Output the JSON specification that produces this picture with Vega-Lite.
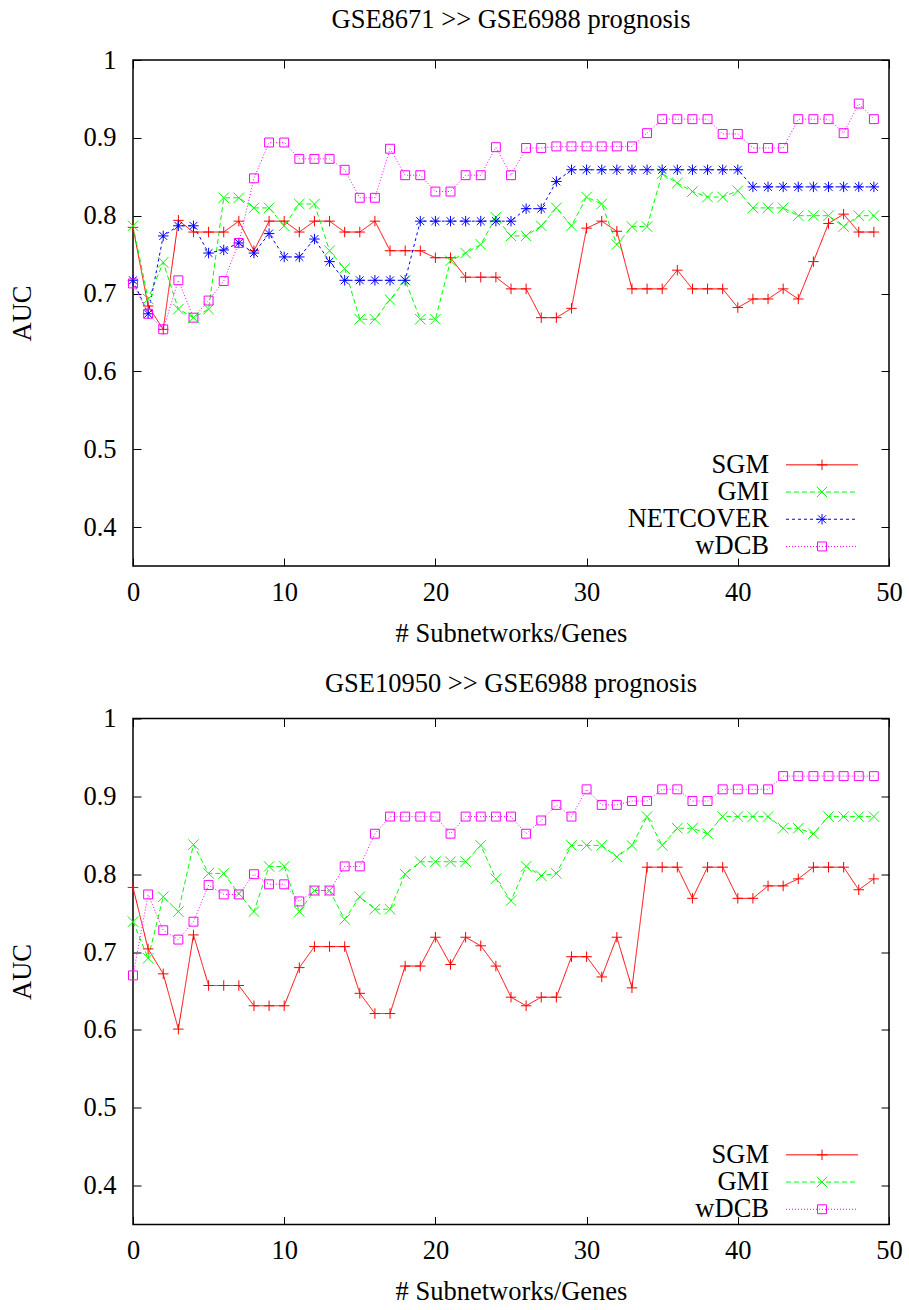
{
  "$schema": "https://vega.github.io/schema/vega-lite/v6.json",
  "padding": {"left": 9, "top": 5, "right": 5, "bottom": 2},
  "spacing": 21.5,
  "config": {
    "font": "Liberation Serif",
    "view": {"stroke": "black", "strokeWidth": 1.5},
    "axis": {"domain": false, "grid": false, "labelFlush": false, "labelOverlap": false, "tickColor": "black", "tickSize": -8, "tickWidth": 1, "labelFontSize": 26.5, "labelColor": "black", "titleFontSize": 26.5, "titleFontWeight": "normal", "titleColor": "black", "labelFont": "Liberation Serif", "titleFont": "Liberation Serif"},
    "axisX": {"labelPadding": 21, "titlePadding": 14.5},
    "axisY": {"labelPadding": 25, "titlePadding": 46},
    "title": {"fontSize": 26.5, "fontWeight": "normal", "font": "Liberation Serif", "color": "black", "baseline": "alphabetic"},
    "legend": {"labelFont": "Liberation Serif", "labelFontSize": 26.5, "labelColor": "black", "padding": 0, "rowPadding": 0.2, "title": null}
  },
  "resolve": {"scale": {"color": "independent", "shape": "independent", "strokeDash": "independent"}, "legend": {"color": "independent", "shape": "independent", "strokeDash": "independent"}},
  "datasets": {
    "top": [
      {"method": "SGM", "genes": 0, "auc": 0.785}, {"method": "SGM", "genes": 1, "auc": 0.684}, {"method": "SGM", "genes": 2, "auc": 0.654}, {"method": "SGM", "genes": 3, "auc": 0.794}, {"method": "SGM", "genes": 4, "auc": 0.779}, {"method": "SGM", "genes": 5, "auc": 0.779}, {"method": "SGM", "genes": 6, "auc": 0.779}, {"method": "SGM", "genes": 7, "auc": 0.793}, {"method": "SGM", "genes": 8, "auc": 0.755}, {"method": "SGM", "genes": 9, "auc": 0.793},
      {"method": "SGM", "genes": 10, "auc": 0.793}, {"method": "SGM", "genes": 11, "auc": 0.779}, {"method": "SGM", "genes": 12, "auc": 0.793}, {"method": "SGM", "genes": 13, "auc": 0.793}, {"method": "SGM", "genes": 14, "auc": 0.779}, {"method": "SGM", "genes": 15, "auc": 0.779}, {"method": "SGM", "genes": 16, "auc": 0.793}, {"method": "SGM", "genes": 17, "auc": 0.755}, {"method": "SGM", "genes": 18, "auc": 0.755}, {"method": "SGM", "genes": 19, "auc": 0.755},
      {"method": "SGM", "genes": 20, "auc": 0.746}, {"method": "SGM", "genes": 21, "auc": 0.746}, {"method": "SGM", "genes": 22, "auc": 0.721}, {"method": "SGM", "genes": 23, "auc": 0.721}, {"method": "SGM", "genes": 24, "auc": 0.721}, {"method": "SGM", "genes": 25, "auc": 0.706}, {"method": "SGM", "genes": 26, "auc": 0.706}, {"method": "SGM", "genes": 27, "auc": 0.669}, {"method": "SGM", "genes": 28, "auc": 0.669}, {"method": "SGM", "genes": 29, "auc": 0.681},
      {"method": "SGM", "genes": 30, "auc": 0.784}, {"method": "SGM", "genes": 31, "auc": 0.793}, {"method": "SGM", "genes": 32, "auc": 0.78}, {"method": "SGM", "genes": 33, "auc": 0.706}, {"method": "SGM", "genes": 34, "auc": 0.706}, {"method": "SGM", "genes": 35, "auc": 0.706}, {"method": "SGM", "genes": 36, "auc": 0.73}, {"method": "SGM", "genes": 37, "auc": 0.706}, {"method": "SGM", "genes": 38, "auc": 0.706}, {"method": "SGM", "genes": 39, "auc": 0.706},
      {"method": "SGM", "genes": 40, "auc": 0.682}, {"method": "SGM", "genes": 41, "auc": 0.693}, {"method": "SGM", "genes": 42, "auc": 0.693}, {"method": "SGM", "genes": 43, "auc": 0.706}, {"method": "SGM", "genes": 44, "auc": 0.693}, {"method": "SGM", "genes": 45, "auc": 0.741}, {"method": "SGM", "genes": 46, "auc": 0.79}, {"method": "SGM", "genes": 47, "auc": 0.802}, {"method": "SGM", "genes": 48, "auc": 0.779}, {"method": "SGM", "genes": 49, "auc": 0.779},
      {"method": "GMI", "genes": 0, "auc": 0.787}, {"method": "GMI", "genes": 1, "auc": 0.693}, {"method": "GMI", "genes": 2, "auc": 0.74}, {"method": "GMI", "genes": 3, "auc": 0.68}, {"method": "GMI", "genes": 4, "auc": 0.669}, {"method": "GMI", "genes": 5, "auc": 0.68}, {"method": "GMI", "genes": 6, "auc": 0.823}, {"method": "GMI", "genes": 7, "auc": 0.823}, {"method": "GMI", "genes": 8, "auc": 0.81}, {"method": "GMI", "genes": 9, "auc": 0.81},
      {"method": "GMI", "genes": 10, "auc": 0.787}, {"method": "GMI", "genes": 11, "auc": 0.815}, {"method": "GMI", "genes": 12, "auc": 0.815}, {"method": "GMI", "genes": 13, "auc": 0.755}, {"method": "GMI", "genes": 14, "auc": 0.732}, {"method": "GMI", "genes": 15, "auc": 0.667}, {"method": "GMI", "genes": 16, "auc": 0.667}, {"method": "GMI", "genes": 17, "auc": 0.692}, {"method": "GMI", "genes": 18, "auc": 0.717}, {"method": "GMI", "genes": 19, "auc": 0.667},
      {"method": "GMI", "genes": 20, "auc": 0.667}, {"method": "GMI", "genes": 21, "auc": 0.742}, {"method": "GMI", "genes": 22, "auc": 0.752}, {"method": "GMI", "genes": 23, "auc": 0.763}, {"method": "GMI", "genes": 24, "auc": 0.798}, {"method": "GMI", "genes": 25, "auc": 0.774}, {"method": "GMI", "genes": 26, "auc": 0.774}, {"method": "GMI", "genes": 27, "auc": 0.787}, {"method": "GMI", "genes": 28, "auc": 0.81}, {"method": "GMI", "genes": 29, "auc": 0.787},
      {"method": "GMI", "genes": 30, "auc": 0.824}, {"method": "GMI", "genes": 31, "auc": 0.815}, {"method": "GMI", "genes": 32, "auc": 0.763}, {"method": "GMI", "genes": 33, "auc": 0.786}, {"method": "GMI", "genes": 34, "auc": 0.786}, {"method": "GMI", "genes": 35, "auc": 0.854}, {"method": "GMI", "genes": 36, "auc": 0.842}, {"method": "GMI", "genes": 37, "auc": 0.831}, {"method": "GMI", "genes": 38, "auc": 0.824}, {"method": "GMI", "genes": 39, "auc": 0.824},
      {"method": "GMI", "genes": 40, "auc": 0.832}, {"method": "GMI", "genes": 41, "auc": 0.81}, {"method": "GMI", "genes": 42, "auc": 0.81}, {"method": "GMI", "genes": 43, "auc": 0.81}, {"method": "GMI", "genes": 44, "auc": 0.8}, {"method": "GMI", "genes": 45, "auc": 0.8}, {"method": "GMI", "genes": 46, "auc": 0.8}, {"method": "GMI", "genes": 47, "auc": 0.786}, {"method": "GMI", "genes": 48, "auc": 0.8}, {"method": "GMI", "genes": 49, "auc": 0.8},
      {"method": "NETCOVER", "genes": 0, "auc": 0.717}, {"method": "NETCOVER", "genes": 1, "auc": 0.674}, {"method": "NETCOVER", "genes": 2, "auc": 0.774}, {"method": "NETCOVER", "genes": 3, "auc": 0.787}, {"method": "NETCOVER", "genes": 4, "auc": 0.787}, {"method": "NETCOVER", "genes": 5, "auc": 0.752}, {"method": "NETCOVER", "genes": 6, "auc": 0.756}, {"method": "NETCOVER", "genes": 7, "auc": 0.765}, {"method": "NETCOVER", "genes": 8, "auc": 0.752}, {"method": "NETCOVER", "genes": 9, "auc": 0.777},
      {"method": "NETCOVER", "genes": 10, "auc": 0.747}, {"method": "NETCOVER", "genes": 11, "auc": 0.747}, {"method": "NETCOVER", "genes": 12, "auc": 0.77}, {"method": "NETCOVER", "genes": 13, "auc": 0.741}, {"method": "NETCOVER", "genes": 14, "auc": 0.717}, {"method": "NETCOVER", "genes": 15, "auc": 0.717}, {"method": "NETCOVER", "genes": 16, "auc": 0.717}, {"method": "NETCOVER", "genes": 17, "auc": 0.717}, {"method": "NETCOVER", "genes": 18, "auc": 0.717}, {"method": "NETCOVER", "genes": 19, "auc": 0.793},
      {"method": "NETCOVER", "genes": 20, "auc": 0.793}, {"method": "NETCOVER", "genes": 21, "auc": 0.793}, {"method": "NETCOVER", "genes": 22, "auc": 0.793}, {"method": "NETCOVER", "genes": 23, "auc": 0.793}, {"method": "NETCOVER", "genes": 24, "auc": 0.793}, {"method": "NETCOVER", "genes": 25, "auc": 0.793}, {"method": "NETCOVER", "genes": 26, "auc": 0.809}, {"method": "NETCOVER", "genes": 27, "auc": 0.809}, {"method": "NETCOVER", "genes": 28, "auc": 0.844}, {"method": "NETCOVER", "genes": 29, "auc": 0.859},
      {"method": "NETCOVER", "genes": 30, "auc": 0.859}, {"method": "NETCOVER", "genes": 31, "auc": 0.859}, {"method": "NETCOVER", "genes": 32, "auc": 0.859}, {"method": "NETCOVER", "genes": 33, "auc": 0.859}, {"method": "NETCOVER", "genes": 34, "auc": 0.859}, {"method": "NETCOVER", "genes": 35, "auc": 0.859}, {"method": "NETCOVER", "genes": 36, "auc": 0.859}, {"method": "NETCOVER", "genes": 37, "auc": 0.859}, {"method": "NETCOVER", "genes": 38, "auc": 0.859}, {"method": "NETCOVER", "genes": 39, "auc": 0.859},
      {"method": "NETCOVER", "genes": 40, "auc": 0.859}, {"method": "NETCOVER", "genes": 41, "auc": 0.837}, {"method": "NETCOVER", "genes": 42, "auc": 0.837}, {"method": "NETCOVER", "genes": 43, "auc": 0.837}, {"method": "NETCOVER", "genes": 44, "auc": 0.837}, {"method": "NETCOVER", "genes": 45, "auc": 0.837}, {"method": "NETCOVER", "genes": 46, "auc": 0.837}, {"method": "NETCOVER", "genes": 47, "auc": 0.837}, {"method": "NETCOVER", "genes": 48, "auc": 0.837}, {"method": "NETCOVER", "genes": 49, "auc": 0.837},
      {"method": "wDCB", "genes": 0, "auc": 0.713}, {"method": "wDCB", "genes": 1, "auc": 0.674}, {"method": "wDCB", "genes": 2, "auc": 0.654}, {"method": "wDCB", "genes": 3, "auc": 0.717}, {"method": "wDCB", "genes": 4, "auc": 0.669}, {"method": "wDCB", "genes": 5, "auc": 0.691}, {"method": "wDCB", "genes": 6, "auc": 0.716}, {"method": "wDCB", "genes": 7, "auc": 0.765}, {"method": "wDCB", "genes": 8, "auc": 0.848}, {"method": "wDCB", "genes": 9, "auc": 0.894},
      {"method": "wDCB", "genes": 10, "auc": 0.894}, {"method": "wDCB", "genes": 11, "auc": 0.873}, {"method": "wDCB", "genes": 12, "auc": 0.873}, {"method": "wDCB", "genes": 13, "auc": 0.873}, {"method": "wDCB", "genes": 14, "auc": 0.859}, {"method": "wDCB", "genes": 15, "auc": 0.823}, {"method": "wDCB", "genes": 16, "auc": 0.823}, {"method": "wDCB", "genes": 17, "auc": 0.886}, {"method": "wDCB", "genes": 18, "auc": 0.852}, {"method": "wDCB", "genes": 19, "auc": 0.852},
      {"method": "wDCB", "genes": 20, "auc": 0.831}, {"method": "wDCB", "genes": 21, "auc": 0.831}, {"method": "wDCB", "genes": 22, "auc": 0.852}, {"method": "wDCB", "genes": 23, "auc": 0.852}, {"method": "wDCB", "genes": 24, "auc": 0.888}, {"method": "wDCB", "genes": 25, "auc": 0.852}, {"method": "wDCB", "genes": 26, "auc": 0.887}, {"method": "wDCB", "genes": 27, "auc": 0.887}, {"method": "wDCB", "genes": 28, "auc": 0.889}, {"method": "wDCB", "genes": 29, "auc": 0.889},
      {"method": "wDCB", "genes": 30, "auc": 0.889}, {"method": "wDCB", "genes": 31, "auc": 0.889}, {"method": "wDCB", "genes": 32, "auc": 0.889}, {"method": "wDCB", "genes": 33, "auc": 0.889}, {"method": "wDCB", "genes": 34, "auc": 0.906}, {"method": "wDCB", "genes": 35, "auc": 0.924}, {"method": "wDCB", "genes": 36, "auc": 0.924}, {"method": "wDCB", "genes": 37, "auc": 0.924}, {"method": "wDCB", "genes": 38, "auc": 0.924}, {"method": "wDCB", "genes": 39, "auc": 0.905},
      {"method": "wDCB", "genes": 40, "auc": 0.905}, {"method": "wDCB", "genes": 41, "auc": 0.887}, {"method": "wDCB", "genes": 42, "auc": 0.887}, {"method": "wDCB", "genes": 43, "auc": 0.887}, {"method": "wDCB", "genes": 44, "auc": 0.924}, {"method": "wDCB", "genes": 45, "auc": 0.924}, {"method": "wDCB", "genes": 46, "auc": 0.924}, {"method": "wDCB", "genes": 47, "auc": 0.906}, {"method": "wDCB", "genes": 48, "auc": 0.944}, {"method": "wDCB", "genes": 49, "auc": 0.924}
    ],
    "bottom": [
      {"method": "SGM", "genes": 0, "auc": 0.783}, {"method": "SGM", "genes": 1, "auc": 0.704}, {"method": "SGM", "genes": 2, "auc": 0.672}, {"method": "SGM", "genes": 3, "auc": 0.601}, {"method": "SGM", "genes": 4, "auc": 0.722}, {"method": "SGM", "genes": 5, "auc": 0.657}, {"method": "SGM", "genes": 6, "auc": 0.657}, {"method": "SGM", "genes": 7, "auc": 0.657}, {"method": "SGM", "genes": 8, "auc": 0.631}, {"method": "SGM", "genes": 9, "auc": 0.631},
      {"method": "SGM", "genes": 10, "auc": 0.631}, {"method": "SGM", "genes": 11, "auc": 0.68}, {"method": "SGM", "genes": 12, "auc": 0.707}, {"method": "SGM", "genes": 13, "auc": 0.707}, {"method": "SGM", "genes": 14, "auc": 0.707}, {"method": "SGM", "genes": 15, "auc": 0.647}, {"method": "SGM", "genes": 16, "auc": 0.621}, {"method": "SGM", "genes": 17, "auc": 0.621}, {"method": "SGM", "genes": 18, "auc": 0.682}, {"method": "SGM", "genes": 19, "auc": 0.682},
      {"method": "SGM", "genes": 20, "auc": 0.719}, {"method": "SGM", "genes": 21, "auc": 0.684}, {"method": "SGM", "genes": 22, "auc": 0.719}, {"method": "SGM", "genes": 23, "auc": 0.708}, {"method": "SGM", "genes": 24, "auc": 0.682}, {"method": "SGM", "genes": 25, "auc": 0.642}, {"method": "SGM", "genes": 26, "auc": 0.631}, {"method": "SGM", "genes": 27, "auc": 0.642}, {"method": "SGM", "genes": 28, "auc": 0.642}, {"method": "SGM", "genes": 29, "auc": 0.694},
      {"method": "SGM", "genes": 30, "auc": 0.694}, {"method": "SGM", "genes": 31, "auc": 0.668}, {"method": "SGM", "genes": 32, "auc": 0.719}, {"method": "SGM", "genes": 33, "auc": 0.654}, {"method": "SGM", "genes": 34, "auc": 0.809}, {"method": "SGM", "genes": 35, "auc": 0.809}, {"method": "SGM", "genes": 36, "auc": 0.809}, {"method": "SGM", "genes": 37, "auc": 0.769}, {"method": "SGM", "genes": 38, "auc": 0.809}, {"method": "SGM", "genes": 39, "auc": 0.809},
      {"method": "SGM", "genes": 40, "auc": 0.769}, {"method": "SGM", "genes": 41, "auc": 0.769}, {"method": "SGM", "genes": 42, "auc": 0.785}, {"method": "SGM", "genes": 43, "auc": 0.785}, {"method": "SGM", "genes": 44, "auc": 0.794}, {"method": "SGM", "genes": 45, "auc": 0.809}, {"method": "SGM", "genes": 46, "auc": 0.809}, {"method": "SGM", "genes": 47, "auc": 0.809}, {"method": "SGM", "genes": 48, "auc": 0.78}, {"method": "SGM", "genes": 49, "auc": 0.794},
      {"method": "GMI", "genes": 0, "auc": 0.739}, {"method": "GMI", "genes": 1, "auc": 0.692}, {"method": "GMI", "genes": 2, "auc": 0.771}, {"method": "GMI", "genes": 3, "auc": 0.752}, {"method": "GMI", "genes": 4, "auc": 0.838}, {"method": "GMI", "genes": 5, "auc": 0.801}, {"method": "GMI", "genes": 6, "auc": 0.801}, {"method": "GMI", "genes": 7, "auc": 0.775}, {"method": "GMI", "genes": 8, "auc": 0.752}, {"method": "GMI", "genes": 9, "auc": 0.81},
      {"method": "GMI", "genes": 10, "auc": 0.81}, {"method": "GMI", "genes": 11, "auc": 0.752}, {"method": "GMI", "genes": 12, "auc": 0.779}, {"method": "GMI", "genes": 13, "auc": 0.779}, {"method": "GMI", "genes": 14, "auc": 0.742}, {"method": "GMI", "genes": 15, "auc": 0.771}, {"method": "GMI", "genes": 16, "auc": 0.755}, {"method": "GMI", "genes": 17, "auc": 0.755}, {"method": "GMI", "genes": 18, "auc": 0.8}, {"method": "GMI", "genes": 19, "auc": 0.816},
      {"method": "GMI", "genes": 20, "auc": 0.816}, {"method": "GMI", "genes": 21, "auc": 0.816}, {"method": "GMI", "genes": 22, "auc": 0.816}, {"method": "GMI", "genes": 23, "auc": 0.837}, {"method": "GMI", "genes": 24, "auc": 0.794}, {"method": "GMI", "genes": 25, "auc": 0.766}, {"method": "GMI", "genes": 26, "auc": 0.81}, {"method": "GMI", "genes": 27, "auc": 0.798}, {"method": "GMI", "genes": 28, "auc": 0.801}, {"method": "GMI", "genes": 29, "auc": 0.837},
      {"method": "GMI", "genes": 30, "auc": 0.837}, {"method": "GMI", "genes": 31, "auc": 0.837}, {"method": "GMI", "genes": 32, "auc": 0.822}, {"method": "GMI", "genes": 33, "auc": 0.837}, {"method": "GMI", "genes": 34, "auc": 0.874}, {"method": "GMI", "genes": 35, "auc": 0.837}, {"method": "GMI", "genes": 36, "auc": 0.859}, {"method": "GMI", "genes": 37, "auc": 0.859}, {"method": "GMI", "genes": 38, "auc": 0.852}, {"method": "GMI", "genes": 39, "auc": 0.874},
      {"method": "GMI", "genes": 40, "auc": 0.874}, {"method": "GMI", "genes": 41, "auc": 0.874}, {"method": "GMI", "genes": 42, "auc": 0.874}, {"method": "GMI", "genes": 43, "auc": 0.859}, {"method": "GMI", "genes": 44, "auc": 0.859}, {"method": "GMI", "genes": 45, "auc": 0.852}, {"method": "GMI", "genes": 46, "auc": 0.874}, {"method": "GMI", "genes": 47, "auc": 0.874}, {"method": "GMI", "genes": 48, "auc": 0.874}, {"method": "GMI", "genes": 49, "auc": 0.874},
      {"method": "wDCB", "genes": 0, "auc": 0.67}, {"method": "wDCB", "genes": 1, "auc": 0.774}, {"method": "wDCB", "genes": 2, "auc": 0.728}, {"method": "wDCB", "genes": 3, "auc": 0.716}, {"method": "wDCB", "genes": 4, "auc": 0.739}, {"method": "wDCB", "genes": 5, "auc": 0.786}, {"method": "wDCB", "genes": 6, "auc": 0.774}, {"method": "wDCB", "genes": 7, "auc": 0.774}, {"method": "wDCB", "genes": 8, "auc": 0.8}, {"method": "wDCB", "genes": 9, "auc": 0.787},
      {"method": "wDCB", "genes": 10, "auc": 0.787}, {"method": "wDCB", "genes": 11, "auc": 0.765}, {"method": "wDCB", "genes": 12, "auc": 0.779}, {"method": "wDCB", "genes": 13, "auc": 0.779}, {"method": "wDCB", "genes": 14, "auc": 0.81}, {"method": "wDCB", "genes": 15, "auc": 0.81}, {"method": "wDCB", "genes": 16, "auc": 0.852}, {"method": "wDCB", "genes": 17, "auc": 0.874}, {"method": "wDCB", "genes": 18, "auc": 0.874}, {"method": "wDCB", "genes": 19, "auc": 0.874},
      {"method": "wDCB", "genes": 20, "auc": 0.874}, {"method": "wDCB", "genes": 21, "auc": 0.852}, {"method": "wDCB", "genes": 22, "auc": 0.874}, {"method": "wDCB", "genes": 23, "auc": 0.874}, {"method": "wDCB", "genes": 24, "auc": 0.874}, {"method": "wDCB", "genes": 25, "auc": 0.874}, {"method": "wDCB", "genes": 26, "auc": 0.852}, {"method": "wDCB", "genes": 27, "auc": 0.869}, {"method": "wDCB", "genes": 28, "auc": 0.889}, {"method": "wDCB", "genes": 29, "auc": 0.874},
      {"method": "wDCB", "genes": 30, "auc": 0.909}, {"method": "wDCB", "genes": 31, "auc": 0.889}, {"method": "wDCB", "genes": 32, "auc": 0.889}, {"method": "wDCB", "genes": 33, "auc": 0.894}, {"method": "wDCB", "genes": 34, "auc": 0.894}, {"method": "wDCB", "genes": 35, "auc": 0.909}, {"method": "wDCB", "genes": 36, "auc": 0.909}, {"method": "wDCB", "genes": 37, "auc": 0.894}, {"method": "wDCB", "genes": 38, "auc": 0.894}, {"method": "wDCB", "genes": 39, "auc": 0.909},
      {"method": "wDCB", "genes": 40, "auc": 0.909}, {"method": "wDCB", "genes": 41, "auc": 0.909}, {"method": "wDCB", "genes": 42, "auc": 0.909}, {"method": "wDCB", "genes": 43, "auc": 0.926}, {"method": "wDCB", "genes": 44, "auc": 0.926}, {"method": "wDCB", "genes": 45, "auc": 0.926}, {"method": "wDCB", "genes": 46, "auc": 0.926}, {"method": "wDCB", "genes": 47, "auc": 0.926}, {"method": "wDCB", "genes": 48, "auc": 0.926}, {"method": "wDCB", "genes": 49, "auc": 0.926}
    ]
  },
  "vconcat": [
    {
      "title": {"text": "GSE8671 >> GSE6988 prognosis", "offset": 14},
      "width": 756,
      "height": 506,
      "data": {"name": "top"},
      "resolve": {"legend": {"color": "independent", "shape": "independent", "strokeDash": "independent"}, "axis": {"x": "independent", "y": "independent"}},
      "layer": [
        {
          "mark": {"type": "line", "strokeWidth": 1},
          "encoding": {
            "x": {"field": "genes", "type": "quantitative", "scale": {"domain": [0, 50], "nice": false}, "axis": {"values": [0, 10, 20, 30, 40, 50], "title": "# Subnetworks/Genes"}},
            "y": {"field": "auc", "type": "quantitative", "scale": {"domain": [0.35, 1], "nice": false, "zero": false}, "axis": {"values": [0.4, 0.5, 0.6, 0.7, 0.8, 0.9, 1], "format": ".1~f", "title": "AUC"}},
            "color": {"field": "method", "type": "nominal", "scale": {"domain": ["SGM", "GMI", "NETCOVER", "wDCB"], "range": ["#ff0000", "#00ff00", "#0000ff", "#ff00ff"]}, "legend": {"orient": "none", "legendX": 675.75, "legendY": 391.6, "symbolType": "M-6.865,0H6.865", "symbolSize": 110, "symbolStrokeWidth": 1, "labelAlign": "right", "labelOffset": -66.25}},
            "strokeDash": {"field": "method", "type": "nominal", "scale": {"domain": ["SGM", "GMI", "NETCOVER", "wDCB"], "range": [[1, 0], [5, 3], [3, 3], [1, 2]]}, "legend": {"orient": "none", "legendX": 675.75, "legendY": 391.6, "symbolType": "M-6.865,0H6.865", "symbolSize": 110, "symbolStrokeWidth": 1, "labelAlign": "right", "labelOffset": -66.25}}
          }
        },
        {
          "mark": {"type": "point", "filled": false, "strokeWidth": 1, "size": 110, "opacity": 1},
          "encoding": {
            "x": {"field": "genes", "type": "quantitative", "axis": {"orient": "top", "values": [0, 10, 20, 30, 40, 50], "labels": false, "title": null}},
            "y": {"field": "auc", "type": "quantitative", "axis": {"orient": "right", "values": [0.4, 0.5, 0.6, 0.7, 0.8, 0.9, 1], "labels": false, "title": null}},
            "color": {"field": "method", "type": "nominal", "legend": {"orient": "none", "legendX": 675.75, "legendY": 391.6, "symbolSize": 110, "symbolStrokeWidth": 1, "labelOpacity": 0, "labelExpr": "' '", "encode": {"symbols": {"update": {"fill": {"value": "transparent"}, "stroke": {"signal": "datum.value === 'SGM' ? '#ff0000' : datum.value === 'GMI' ? '#00ff00' : datum.value === 'NETCOVER' ? '#0000ff' : '#ff00ff'"}, "opacity": {"value": 1}}}}}},
            "shape": {"field": "method", "type": "nominal", "scale": {"domain": ["SGM", "GMI", "NETCOVER", "wDCB"], "range": ["M-1,0H1M0,-1V1", "M-1,-1L1,1M-1,1L1,-1", "M-1,0H1M0,-1V1M-0.75,-0.75L0.75,0.75M-0.75,0.75L0.75,-0.75", "M-0.85,-0.85H0.85V0.85H-0.85Z"]}, "legend": {"orient": "none", "legendX": 675.75, "legendY": 391.6, "symbolSize": 110, "symbolStrokeWidth": 1, "labelOpacity": 0, "labelExpr": "' '", "encode": {"symbols": {"update": {"fill": {"value": "transparent"}, "stroke": {"signal": "datum.value === 'SGM' ? '#ff0000' : datum.value === 'GMI' ? '#00ff00' : datum.value === 'NETCOVER' ? '#0000ff' : '#ff00ff'"}, "opacity": {"value": 1}}}}}}
          }
        }
      ]
    },
    {
      "title": {"text": "GSE10950 >> GSE6988 prognosis", "offset": 8},
      "width": 756,
      "height": 506,
      "data": {"name": "bottom"},
      "resolve": {"legend": {"color": "independent", "shape": "independent", "strokeDash": "independent"}, "axis": {"x": "independent", "y": "independent"}},
      "layer": [
        {
          "mark": {"type": "line", "strokeWidth": 1},
          "encoding": {
            "x": {"field": "genes", "type": "quantitative", "scale": {"domain": [0, 50], "nice": false}, "axis": {"values": [0, 10, 20, 30, 40, 50], "title": "# Subnetworks/Genes"}},
            "y": {"field": "auc", "type": "quantitative", "scale": {"domain": [0.35, 1], "nice": false, "zero": false}, "axis": {"values": [0.4, 0.5, 0.6, 0.7, 0.8, 0.9, 1], "format": ".1~f", "title": "AUC"}},
            "color": {"field": "method", "type": "nominal", "scale": {"domain": ["SGM", "GMI", "wDCB"], "range": ["#ff0000", "#00ff00", "#ff00ff"]}, "legend": {"orient": "none", "legendX": 675.75, "legendY": 423.1, "symbolType": "M-6.865,0H6.865", "symbolSize": 110, "symbolStrokeWidth": 1, "labelAlign": "right", "labelOffset": -66.25}},
            "strokeDash": {"field": "method", "type": "nominal", "scale": {"domain": ["SGM", "GMI", "wDCB"], "range": [[1, 0], [5, 3], [1, 2]]}, "legend": {"orient": "none", "legendX": 675.75, "legendY": 423.1, "symbolType": "M-6.865,0H6.865", "symbolSize": 110, "symbolStrokeWidth": 1, "labelAlign": "right", "labelOffset": -66.25}}
          }
        },
        {
          "mark": {"type": "point", "filled": false, "strokeWidth": 1, "size": 110, "opacity": 1},
          "encoding": {
            "x": {"field": "genes", "type": "quantitative", "axis": {"orient": "top", "values": [0, 10, 20, 30, 40, 50], "labels": false, "title": null}},
            "y": {"field": "auc", "type": "quantitative", "axis": {"orient": "right", "values": [0.4, 0.5, 0.6, 0.7, 0.8, 0.9, 1], "labels": false, "title": null}},
            "color": {"field": "method", "type": "nominal", "legend": {"orient": "none", "legendX": 675.75, "legendY": 423.1, "symbolSize": 110, "symbolStrokeWidth": 1, "labelOpacity": 0, "labelExpr": "' '", "encode": {"symbols": {"update": {"fill": {"value": "transparent"}, "stroke": {"signal": "datum.value === 'SGM' ? '#ff0000' : datum.value === 'GMI' ? '#00ff00' : '#ff00ff'"}, "opacity": {"value": 1}}}}}},
            "shape": {"field": "method", "type": "nominal", "scale": {"domain": ["SGM", "GMI", "wDCB"], "range": ["M-1,0H1M0,-1V1", "M-1,-1L1,1M-1,1L1,-1", "M-0.85,-0.85H0.85V0.85H-0.85Z"]}, "legend": {"orient": "none", "legendX": 675.75, "legendY": 423.1, "symbolSize": 110, "symbolStrokeWidth": 1, "labelOpacity": 0, "labelExpr": "' '", "encode": {"symbols": {"update": {"fill": {"value": "transparent"}, "stroke": {"signal": "datum.value === 'SGM' ? '#ff0000' : datum.value === 'GMI' ? '#00ff00' : '#ff00ff'"}, "opacity": {"value": 1}}}}}}
          }
        }
      ]
    }
  ]
}
